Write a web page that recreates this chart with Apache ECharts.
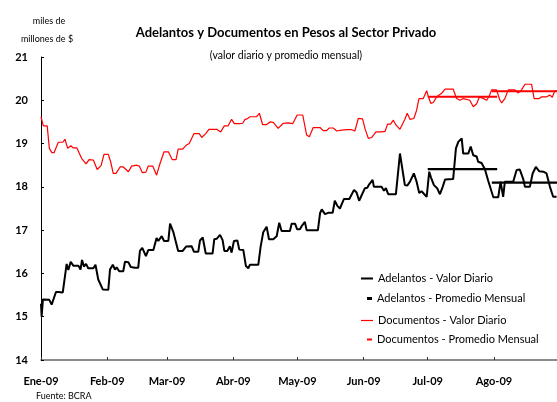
<!DOCTYPE html>
<html>
<head>
<meta charset="utf-8">
<title>Adelantos y Documentos en Pesos al Sector Privado</title>
<script src="https://cdn.jsdelivr.net/npm/echarts@6/dist/echarts.min.js"></script>
<style>
  html, body { margin: 0; padding: 0; background: #fff; }
  #chart { width: 557px; height: 402px; }
</style>
</head>
<body>
<div id="chart"></div>
<script>
// x values are days counted from 1 Jan 2009
const monthStarts = [0, 31, 59, 90, 120, 151, 181, 212]
const monthLabels = ['Ene-09', 'Feb-09', 'Mar-09', 'Abr-09', 'May-09', 'Jun-09', 'Jul-09', 'Ago-09']

// Adelantos - valor diario
const adeDays = [0, 0.3, 0.9, 3.9, 5, 7, 8.1, 10.2, 12, 12.8, 13.9, 15.1, 17.5, 18.5, 19.2, 20.1, 21.1, 22.1, 24.5, 25.5,
  26.8, 28.9, 31.5, 32.3, 33.6, 34.6, 35.4, 36.6, 38.5, 39.3, 40.9, 42, 44, 45.5, 46.3, 47.4, 49.1, 50.2, 52.6, 54.1,
  54.9, 56.5, 57.6, 59.6, 60.4, 61.9, 64.2, 66.3, 67.9, 70.5, 71.6, 73.6, 74.4, 75.7, 77.1, 80.3, 81.1, 82.2, 83.8, 85,
  85.8, 87.2, 88.4, 89.2, 90.3, 91.9, 92.8, 94.7, 95.9, 97, 97.8, 101.7, 102.8, 104, 105.6, 106.7, 108.7, 110.3, 111.5, 112.6,
  116.5, 117.3, 118.9, 119.9, 121.2, 122.1, 123.5, 124.3, 127.8, 129.6, 130.6, 131.4, 132.9, 134.4, 136.5, 137.5, 138.7, 139.9, 141.8, 144.3,
  146.5, 147.7, 148.9, 151.6, 152.7, 153.6, 155.2, 155.8, 159.4, 160.5, 161.4, 162.5, 166.1, 168, 170.3, 171.4, 172.7, 174.5, 175.8, 177,
  178.1, 179.2, 180.5, 181.7, 182.5, 183.9, 185.4, 186.7, 188, 189.1, 192.9, 194.2, 195.3, 196.1, 196.9, 197.6, 200, 201.1, 202.3, 203.9,
  204.6, 206.2, 207.8, 209.3, 210.1, 211.7, 214, 215.1, 216.3, 217.1, 221, 222.6, 224.1, 225.7, 226.5, 228.8, 230.1, 231.6, 233.2, 235.1,
  236.6, 238.2, 239.7, 241.3]
const adeValues = [15.3, 15.0, 15.4, 15.39, 15.28, 15.57, 15.57, 15.56, 16.22, 16.08, 16.27, 16.18, 16.18, 16.09, 16.31, 16.16, 16.22, 16.12, 16.12, 16.2,
  15.86, 15.63, 15.62, 16.09, 16.2, 16.09, 16.14, 16.05, 16.05, 16.27, 16.26, 16.15, 16.13, 16.13, 16.52, 16.59, 16.4, 16.54, 16.54, 16.82,
  16.75, 16.86, 16.75, 16.75, 17.15, 16.96, 16.52, 16.52, 16.62, 16.63, 16.5, 16.5, 16.76, 16.83, 16.46, 16.46, 16.79, 16.8, 16.89, 16.77,
  16.52, 16.52, 16.63, 16.48, 16.75, 16.76, 16.55, 16.54, 16.17, 16.12, 16.2, 16.2, 16.62, 16.95, 17.08, 16.79, 16.79, 16.86, 17.17, 16.98,
  16.98, 17.15, 17.15, 17.02, 17.02, 17.1, 17.19, 17.0, 17.0, 17.0, 17.39, 17.48, 17.37, 17.4, 17.4, 17.68, 17.56, 17.5, 17.72, 17.72,
  17.93, 17.87, 17.68, 17.97, 17.98, 18.06, 18.16, 18.0, 18.0, 17.91, 17.97, 17.83, 17.83, 18.77, 18.04, 18.03, 18.12, 18.31, 18.12, 17.86,
  17.9, 17.84, 17.77, 18.35, 18.22, 18.04, 17.97, 17.83, 18.0, 18.17, 18.18, 18.89, 19.04, 19.0, 19.12, 18.77, 18.77, 18.93, 18.73, 18.7,
  18.58, 18.55, 18.4, 18.14, 18.1, 17.76, 17.76, 18.12, 17.77, 18.12, 18.12, 18.39, 18.4, 18.18, 18.0, 18.0, 18.31, 18.46, 18.36, 18.35,
  18.31, 18.0, 17.77, 17.77]

// Documentos - valor diario
const docDays = [0, 1.1, 2.9, 3.9, 5.1, 6.1, 8.1, 10.2, 11.2, 12.5, 13.2, 14, 15, 16.8, 19, 21.1, 22.5, 24.5, 26.3, 28.1,
  29.5, 31.5, 32.6, 33.8, 35.1, 37, 38.5, 40.9, 42.4, 44.8, 46, 47.4, 49.1, 50.2, 52.3, 54.1, 55.7, 57.6, 59.6, 61.4,
  63.2, 64.2, 66.3, 67.9, 69.4, 71.6, 74.1, 75.2, 77.1, 78.6, 82.2, 84.1, 85.8, 87.6, 89.2, 90.5, 92.8, 94.4, 95.5, 96.5,
  97.8, 100.9, 102.2, 103.7, 105.6, 107.2, 108.7, 111, 113.4, 115.7, 116.5, 117.8, 119.9, 122.5, 124.3, 125.6, 127.4, 130.6, 132.1, 133.7,
  134.9, 136.8, 138.4, 140.7, 143.1, 145.4, 146.9, 148.5, 150.5, 151.6, 153.2, 154.7, 156.8, 159.4, 161, 162.2, 163.6, 164.9, 166.1, 168,
  170.3, 171.4, 172.7, 174.5, 175.8, 176.9, 178.9, 180.5, 181.2, 182.4, 183.6, 185.2, 187.5, 189.1, 192.9, 194.5, 196.1, 197.6, 200.7, 202.3,
  203.9, 205.1, 206.7, 208.6, 209.8, 210.9, 213.2, 214.8, 215.6, 217.1, 218.7, 221.8, 223.4, 224.9, 226.5, 229.6, 230.8, 233.2, 234.3, 236.6,
  238.2, 239.3, 240.5, 241.3]
const docValues = [19.62, 19.41, 19.41, 18.89, 18.79, 18.79, 19.03, 19.03, 19.1, 18.89, 18.85, 18.95, 18.9, 18.9, 18.66, 18.53, 18.63, 18.62, 18.4, 18.49,
  18.75, 18.75, 18.58, 18.31, 18.31, 18.46, 18.46, 18.35, 18.48, 18.5, 18.48, 18.33, 18.34, 18.48, 18.48, 18.27, 18.54, 18.81, 18.81, 18.63,
  18.63, 18.87, 18.87, 18.96, 19.0, 19.23, 19.23, 19.14, 19.23, 19.33, 19.33, 19.27, 19.41, 19.41, 19.56, 19.46, 19.46, 19.47, 19.56, 19.57,
  19.62, 19.62, 19.7, 19.44, 19.44, 19.5, 19.49, 19.35, 19.47, 19.48, 19.52, 19.46, 19.66, 19.66, 19.2, 19.16, 19.37, 19.37, 19.3, 19.3,
  19.36, 19.36, 19.29, 19.31, 19.32, 19.32, 19.29, 19.58, 19.57, 19.35, 19.12, 19.14, 19.27, 19.27, 19.28, 19.45, 19.45, 19.54, 19.43, 19.33,
  19.56, 19.7, 19.56, 19.58, 19.77, 20.04, 20.04, 20.22, 20.1, 19.93, 19.95, 20.08, 20.16, 20.26, 20.26, 20.04, 20.0, 20.04, 20.0, 19.85,
  19.92, 20.07, 20.05, 20.0, 20.1, 20.24, 20.24, 20.0, 19.94, 20.04, 20.24, 20.24, 20.17, 20.24, 20.37, 20.37, 20.04, 20.04, 20.08, 20.08,
  20.12, 20.07, 20.22, 20.22]

// promedios mensuales (julio, agosto)
const avgStart = [181, 211]
const avgEnd = [213.5, 241.5]
const adeAvg = [18.41, 18.10]
const docAvg = [20.08, 20.21]

function pairs(days, values) {
  return days.map((d, i) => [d, values[i]])
}

function avgSegments(values) {
  const out = []
  values.forEach((v, i) => {
    if (i > 0) out.push([avgStart[i], null])
    out.push([avgStart[i], v], [avgEnd[i], v])
  })
  return out
}

const font = 'Lato, "Open Sans", sans-serif'
const chart = echarts.init(document.getElementById('chart'))

function legendItem(name, left, top, w, h) {
  return {
    data: [name],
    left,
    top,
    padding: 0,
    itemWidth: w,
    itemHeight: h,
    icon: 'rect',
    selectedMode: false,
    textStyle: { fontFamily: font, fontSize: 11, color: '#000' },
  }
}

const option = {
  animation: false,
  backgroundColor: '#fff',
  title: [
    {
      text: 'Adelantos y Documentos en Pesos al Sector Privado',
      left: 281,
      top: 21,
      textAlign: 'center',
      textStyle: { fontFamily: font, fontSize: 13, fontWeight: 'bold', color: '#000' },
    },
    {
      text: '(valor diario y promedio mensual)',
      left: 281,
      top: 45,
      textAlign: 'center',
      textStyle: { fontFamily: font, fontSize: 10.5, fontWeight: 'normal', color: '#000' },
    },
    {
      text: 'miles de',
      left: 44,
      top: 12,
      textAlign: 'center',
      textStyle: { fontFamily: font, fontSize: 9, fontWeight: 'normal', color: '#000' },
    },
    {
      text: 'millones de $',
      left: 42,
      top: 30,
      textAlign: 'center',
      textStyle: { fontFamily: font, fontSize: 9, fontWeight: 'normal', color: '#000' },
    },
    {
      text: 'Fuente: BCRA',
      left: 31,
      top: 387,
      textStyle: { fontFamily: font, fontSize: 9, fontWeight: 'normal', color: '#000' },
    },
  ],
  legend: [
    legendItem('Adelantos - Valor Diario', 361, 273, 12, 2),
    legendItem('Adelantos - Promedio Mensual', 367, 293, 5, 3),
    legendItem('Documentos - Valor Diario', 361, 315, 12, 1.2),
    legendItem('Documentos - Promedio Mensual', 367, 334, 5, 2),
  ],
  grid: { left: 41, right: 0, top: 57, bottom: 42, containLabel: false },
  xAxis: {
    type: 'value',
    min: 0,
    max: 241.5,
    axisLine: { show: true, lineStyle: { color: '#666', width: 1.5 } },
    axisTick: { show: true, inside: true, length: 3, customValues: monthStarts, lineStyle: { color: '#333' } },
    axisLabel: {
      customValues: monthStarts,
      formatter: (v) => monthLabels[monthStarts.indexOf(v)] || '',
      margin: 16,
      fontFamily: font,
      fontSize: 11,
      fontWeight: 'bold',
      color: '#000',
    },
    splitLine: { show: false },
  },
  yAxis: {
    type: 'value',
    min: 14,
    max: 21,
    interval: 1,
    axisLine: { show: true, lineStyle: { color: '#000', width: 1 } },
    axisTick: { show: true, inside: true, length: 3, lineStyle: { color: '#000' } },
    axisLabel: { margin: 13, fontFamily: font, fontSize: 11, fontWeight: 'bold', color: '#000' },
    splitLine: { show: false },
  },
  series: [
    {
      name: 'Documentos - Valor Diario',
      type: 'line',
      data: pairs(docDays, docValues),
      showSymbol: false,
      color: '#ff0000',
      lineStyle: { color: '#ff0000', width: 1.2 },
      z: 2,
    },
    {
      name: 'Documentos - Promedio Mensual',
      type: 'line',
      data: avgSegments(docAvg),
      showSymbol: false,
      connectNulls: false,
      color: '#ff0000',
      lineStyle: { color: '#ff0000', width: 2 },
      z: 3,
    },
    {
      name: 'Adelantos - Valor Diario',
      type: 'line',
      data: pairs(adeDays, adeValues),
      showSymbol: false,
      color: '#000',
      lineStyle: { color: '#000', width: 2 },
      z: 4,
    },
    {
      name: 'Adelantos - Promedio Mensual',
      type: 'line',
      data: avgSegments(adeAvg),
      showSymbol: false,
      connectNulls: false,
      color: '#000',
      lineStyle: { color: '#000', width: 2.2 },
      z: 5,
    },
  ],
}

chart.setOption(option)
</script>
</body>
</html>
